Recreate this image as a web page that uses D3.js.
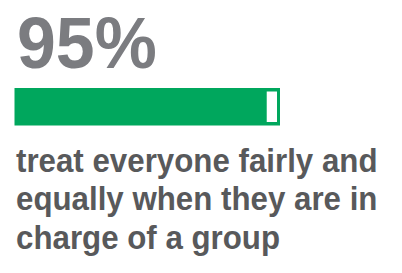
<!DOCTYPE html>
<html>
<head>
  <meta charset="utf-8">
  <style>
    body { margin: 0; background: #fff; }
    text { font-family: "Liberation Sans", Arial, sans-serif; font-weight: bold; }
  </style>
  <title>95% treat everyone fairly</title>
</head>
<body>
  <script src="https://cdn.jsdelivr.net/npm/d3@7"></script>
  <script>
    // data
    var value = 95;
    var domainMax = 100;
    var labelLines = ["treat everyone fairly and", "equally when they are in", "charge of a group"];

    var width = 402;
    var height = 273;

    var svg = d3.select("body").append("svg")
      .attr("width", width)
      .attr("height", height);

    // big number (slightly condensed, like the original face)
    svg.append("text")
      .attr("transform", "translate(17, 68) scale(0.97, 1)")
      .attr("font-size", 72)
      .attr("fill", "#7b7c80")
      .text(value + "%");

    // bar scale
    var x = d3.scaleLinear()
      .domain([0, domainMax])
      .range([14.5, 280]);

    var barTop = 88, barH = 37.5, border = 3;

    svg.append("rect")
      .attr("x", x(0))
      .attr("y", barTop)
      .attr("width", x(domainMax) - x(0))
      .attr("height", barH)
      .attr("fill", "#00a75d");

    // remaining share shown as white box inside the outline
    svg.append("rect")
      .attr("x", x(value))
      .attr("y", barTop + border + 0.5)
      .attr("width", x(domainMax) - border - x(value))
      .attr("height", barH - 2 * border - 1)
      .attr("fill", "#ffffff");

    // label
    svg.append("g")
      .selectAll("text")
      .data(labelLines)
      .enter()
      .append("text")
      .attr("transform", function(d, i) { return "translate(16, " + (171.5 + i * 38.5) + ") scale(0.92, 1)"; })
      .attr("font-size", 34)
      .attr("fill", "#58595b")
      .text(function(d) { return d; });
  </script>
</body>
</html>
